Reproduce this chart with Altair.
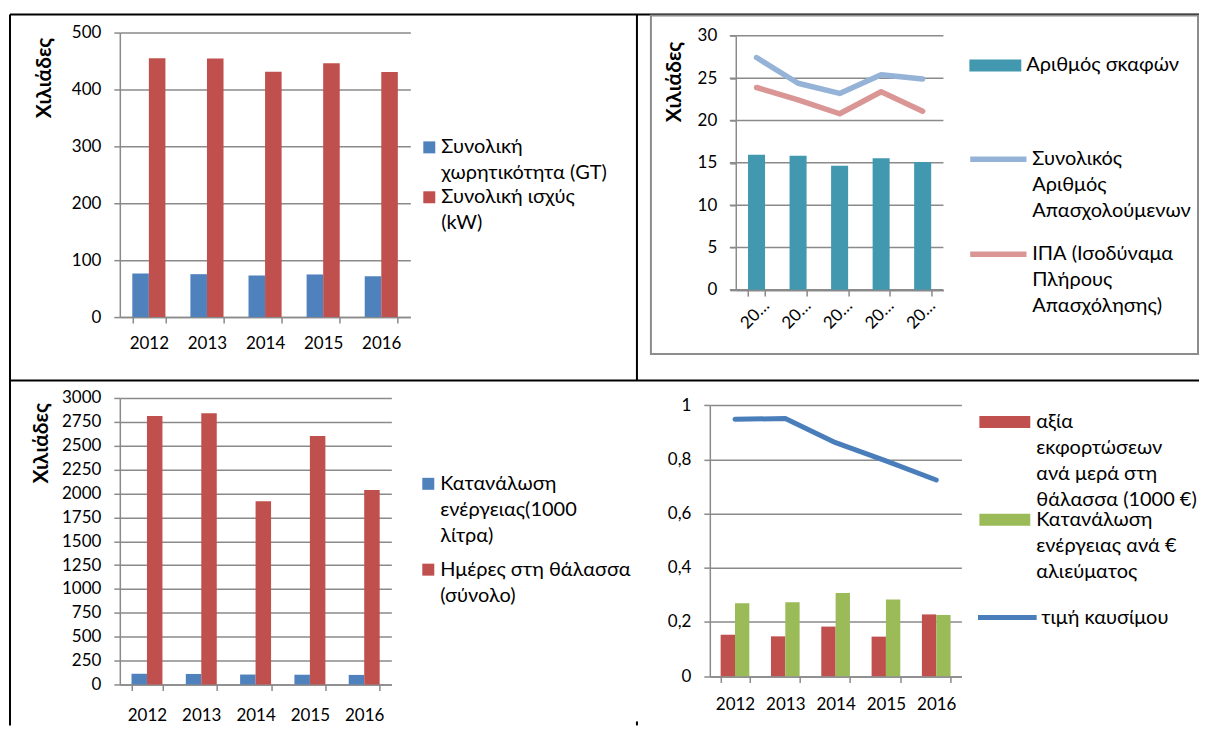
import altair as alt
import pandas as pd

years = ["2012", "2013", "2014", "2015", "2016"]

# ---- panel 1 (thousands)
p1_labels = ["Συνολική\nχωρητικότητα (GT)", "Συνολική ισχύς\n(kW)"]
p1_gt = [76.6, 75.4, 73.1, 74.9, 71.9]
p1_kw = [454.9, 454.4, 431.0, 446.0, 430.5]
p1_ticks = [0, 100, 200, 300, 400, 500]

# ---- panel 2 (thousands)
p2_bar_labels = ["Αριθμός σκαφών"]
p2_vessels = [15.97, 15.85, 14.67, 15.53, 15.10]
p2_line_labels = ["Συνολικός\nΑριθμός\nΑπασχολούμενων", "ΙΠΑ (Ισοδύναμα\nΠλήρους\nΑπασχόλησης)"]
p2_employed = [27.44, 24.4, 23.2, 25.4, 24.9]
p2_fte = [23.9, 22.45, 20.8, 23.4, 21.1]
p2_ticks = [0, 5, 10, 15, 20, 25, 30]

# ---- panel 3 (thousands)
p3_labels = ["Κατανάλωση\nενέργειας(1000\nλίτρα)", "Ημέρες στη θάλασσα\n(σύνολο)"]
p3_energy = [112, 110, 104, 102, 100]
p3_days = [2812, 2841, 1918, 2601, 2035]
p3_ticks = [0, 250, 500, 750, 1000, 1250, 1500, 1750, 2000, 2250, 2500, 2750, 3000]

# ---- panel 4
p4_bar_labels = ["αξία\nεκφορτώσεων\nανά μερά στη\nθάλασσα (1000 €)", "Κατανάλωση\nενέργειας ανά €\nαλιεύματος"]
p4_value = [0.153, 0.147, 0.183, 0.146, 0.228]
p4_energy = [0.269, 0.273, 0.307, 0.283, 0.226]
p4_line_labels = ["τιμή καυσίμου"]
p4_fuel = [0.948, 0.951, 0.862, 0.795, 0.724]
p4_ticks = [0, 0.2, 0.4, 0.6, 0.8, 1]

FONT = "Lato"
FS = 17
LFS = 20
GRID = "#8a8a8a"
TITLE = "Χιλιάδες"

# legend symbol shapes (unit = 12 px, symbol size 576)
SQUARE = "M-0.5,-1H0.5V0H-0.5Z"
WIDE = "M-2.1667,-1H2.1667V0H-2.1667Z"
WIDE4 = "M-2.125,-1H2.125V0H-2.125Z"
LINE = "M-2.35,-0.5H2.35"
LINE4 = "M-2.45,-0.5H2.45"
SYM = 576


def x_axis(**kw):
    a = dict(title=None, labelAngle=0, tickBand="extent", grid=False,
             domainColor=GRID, domainWidth=1.5, tickColor=GRID, tickWidth=1.5,
             tickSize=6, labelPadding=12, labelFont=FONT, labelFontSize=FS,
             labelColor="black")
    a.update(kw)
    return alt.Axis(**a)


def y_axis(values, title=None, tx=0, ty=0, **kw):
    a = dict(values=values, grid=True, gridColor=GRID, gridWidth=1.5,
             domainColor=GRID, domainWidth=1.5, tickColor=GRID, tickWidth=1.5,
             tickSize=6, labelPadding=13, labelFont=FONT, labelFontSize=FS,
             labelColor="black")
    if title:
        a.update(title=title, titleX=tx, titleY=ty, titleAngle=270,
                 titleAlign="center", titleBaseline="middle", titleFont=FONT,
                 titleFontSize=21, titleFontWeight="bold", titleColor="black")
    else:
        a["title"] = None
    a.update(kw)
    return alt.Axis(**a)


def legend(x, y, path, row_pad, label_offset, stroke_width=0):
    return alt.Legend(orient="none", legendX=x, legendY=y, title=None,
                      symbolType=path, symbolSize=SYM,
                      symbolStrokeWidth=stroke_width,
                      labelFont=FONT, labelFontSize=LFS, labelColor="black",
                      labelBaseline="alphabetic", labelOffset=label_offset,
                      labelLimit=400, labelExpr="split(datum.label, '\\n')",
                      rowPadding=row_pad, padding=0, direction="vertical")


one = alt.Data(values=[{"k": 1}])


def vrule(x, y1, y2, color="black", w=2):
    return alt.Chart(one).mark_rule(color=color, strokeWidth=w).encode(
        x=alt.value(x), y=alt.value(y1), y2=alt.value(y2))


def hrule(y, x1, x2, color="black", w=2):
    return alt.Chart(one).mark_rule(color=color, strokeWidth=w).encode(
        y=alt.value(y), x=alt.value(x1), x2=alt.value(x2))


def long_df(labels, *series):
    rows = []
    for lab, vals in zip(labels, series):
        for yr, v in zip(years, vals):
            rows.append({"year": yr, "series": lab, "value": v})
    return pd.DataFrame(rows)


# ---------------- panel 1
df1 = long_df(p1_labels, p1_gt, p1_kw)
bars1 = alt.Chart(df1).mark_bar().encode(
    x=alt.X("year:N", axis=x_axis(),
            scale=alt.Scale(paddingInner=0.43, paddingOuter=0.215)),
    xOffset=alt.XOffset("series:N", sort=p1_labels, scale=alt.Scale(domain=p1_labels)),
    y=alt.Y("value:Q", scale=alt.Scale(domain=[0, 500], nice=False),
            axis=y_axis(p1_ticks, TITLE, -75, 45)),
    fill=alt.Fill("series:N", sort=p1_labels,
                  scale=alt.Scale(domain=p1_labels, range=["#4F81BD", "#C0504D"]),
                  legend=legend(298, 109, SQUARE, 4, 0)),
)
# table borders (drawn relative to panel 1)
borders = [
    hrule(-18, -110, 1081),
    vrule(-110, -18, 694),
    hrule(348.5, -110, 1081),
    vrule(518, -18, 348.5),
    vrule(518, 690, 694),
]
panel1 = alt.layer(bars1, *borders).properties(width=291, height=285)

# ---------------- panel 2
df2b = long_df(p2_bar_labels, p2_vessels)
df2l = long_df(p2_line_labels, p2_employed, p2_fte)
df2g = pd.DataFrame({"value": p2_ticks})
x2 = alt.X("year:N", axis=x_axis(labelAngle=-45, labelPadding=1, labelOffset=4,
                                 labelExpr="datum.label ? slice(datum.label, 0, 2) + '…' : ''"),
           scale=alt.Scale(range=[26, 234], paddingInner=0.59, paddingOuter=0.295))
y2 = alt.Y("value:Q", scale=alt.Scale(domain=[0, 30], range=[257.7, 3.3], nice=False),
           axis=y_axis(p2_ticks, TITLE, -61, 49, offset=-26, grid=False))
box2 = alt.Chart(one).mark_rect(fillOpacity=0, stroke="#8c8c8c", strokeWidth=2).encode(
    x=alt.value(-59), x2=alt.value(489), y=alt.value(-17), y2=alt.value(322))
grid2 = alt.Chart(df2g).mark_rule(color=GRID, strokeWidth=1.5).encode(
    y=y2, x=alt.value(20), x2=alt.value(234))
bars2 = alt.Chart(df2b).mark_bar().encode(
    x=x2, y=y2,
    fill=alt.Fill("series:N", scale=alt.Scale(domain=p2_bar_labels, range=["#4198AF"]),
                  legend=legend(274, 27, WIDE, 0, 19)),
)
lines2 = alt.Chart(df2l).mark_line(strokeWidth=5.5, strokeCap="round", strokeJoin="round").encode(
    x=x2, y=y2,
    stroke=alt.Stroke("series:N", sort=p2_line_labels,
                      scale=alt.Scale(domain=p2_line_labels, range=["#95B3D7", "#D99694"]),
                      legend=legend(274, 118, LINE, 22, 19, 5.5)),
)
panel2 = alt.layer(box2, grid2, bars2, lines2).properties(width=234, height=258)

# ---------------- panel 3
df3 = long_df(p3_labels, p3_energy, p3_days)
bars3 = alt.Chart(df3).mark_bar().encode(
    x=alt.X("year:N", axis=x_axis(labelPadding=17),
            scale=alt.Scale(paddingInner=0.43, paddingOuter=0.215)),
    xOffset=alt.XOffset("series:N", sort=p3_labels, scale=alt.Scale(domain=p3_labels)),
    y=alt.Y("value:Q", scale=alt.Scale(domain=[0, 3000], nice=False),
            axis=y_axis(p3_ticks, TITLE, -78, 45, format="d")),
    fill=alt.Fill("series:N", sort=p3_labels,
                  scale=alt.Scale(domain=p3_labels, range=["#4F81BD", "#C0504D"]),
                  legend=legend(297, 80, SQUARE, 14, 0)),
)
panel3 = alt.layer(bars3).properties(width=272, height=287)

# ---------------- panel 4
df4b = long_df(p4_bar_labels, p4_value, p4_energy)
df4l = long_df(p4_line_labels, p4_fuel)
x4 = alt.X("year:N", axis=x_axis(labelPadding=14),
           scale=alt.Scale(paddingInner=0.43, paddingOuter=0.215))
y4 = alt.Y("value:Q", scale=alt.Scale(domain=[0, 1], range=[278.7, 7.3], nice=False),
           axis=y_axis(p4_ticks, None, format="~g",
                       labelExpr="replace(datum.label, '.', ',')"))
bars4 = alt.Chart(df4b).mark_bar().encode(
    x=x4, y=y4,
    xOffset=alt.XOffset("series:N", sort=p4_bar_labels, scale=alt.Scale(domain=p4_bar_labels)),
    fill=alt.Fill("series:N", sort=p4_bar_labels,
                  scale=alt.Scale(domain=p4_bar_labels, range=["#C0504D", "#9BBB59"]),
                  legend=legend(283.5, 18, WIDE4, 0, 19.5)),
)
lines4 = alt.Chart(df4l).mark_line(strokeWidth=5, strokeCap="round", strokeJoin="round").encode(
    x=x4, y=y4,
    stroke=alt.Stroke("series:N", scale=alt.Scale(domain=p4_line_labels, range=["#4A7EBB"]),
                      legend=legend(283.5, 211.5, LINE4, 0, 19.5, 5)),
)
panel4 = alt.layer(bars4, lines4).properties(width=252, height=279)

chart = alt.concat(
    panel1, panel2, panel3, panel4,
    columns=2, spacing={"row": 81, "column": 300}, align="each", bounds="flush",
).resolve_scale(
    fill="independent", stroke="independent", xOffset="independent",
    x="independent", y="independent",
).resolve_legend(
    fill="independent", stroke="independent",
).properties(
    padding={"left": 0, "top": 4, "right": 0, "bottom": 0},
    background="white",
).configure(
    view=alt.ViewConfig(stroke="transparent"),
    style={"guide-label": {"lineHeight": 26}},
)

chart.save("out.html", embed_options={"renderer": "svg", "actions": False})
